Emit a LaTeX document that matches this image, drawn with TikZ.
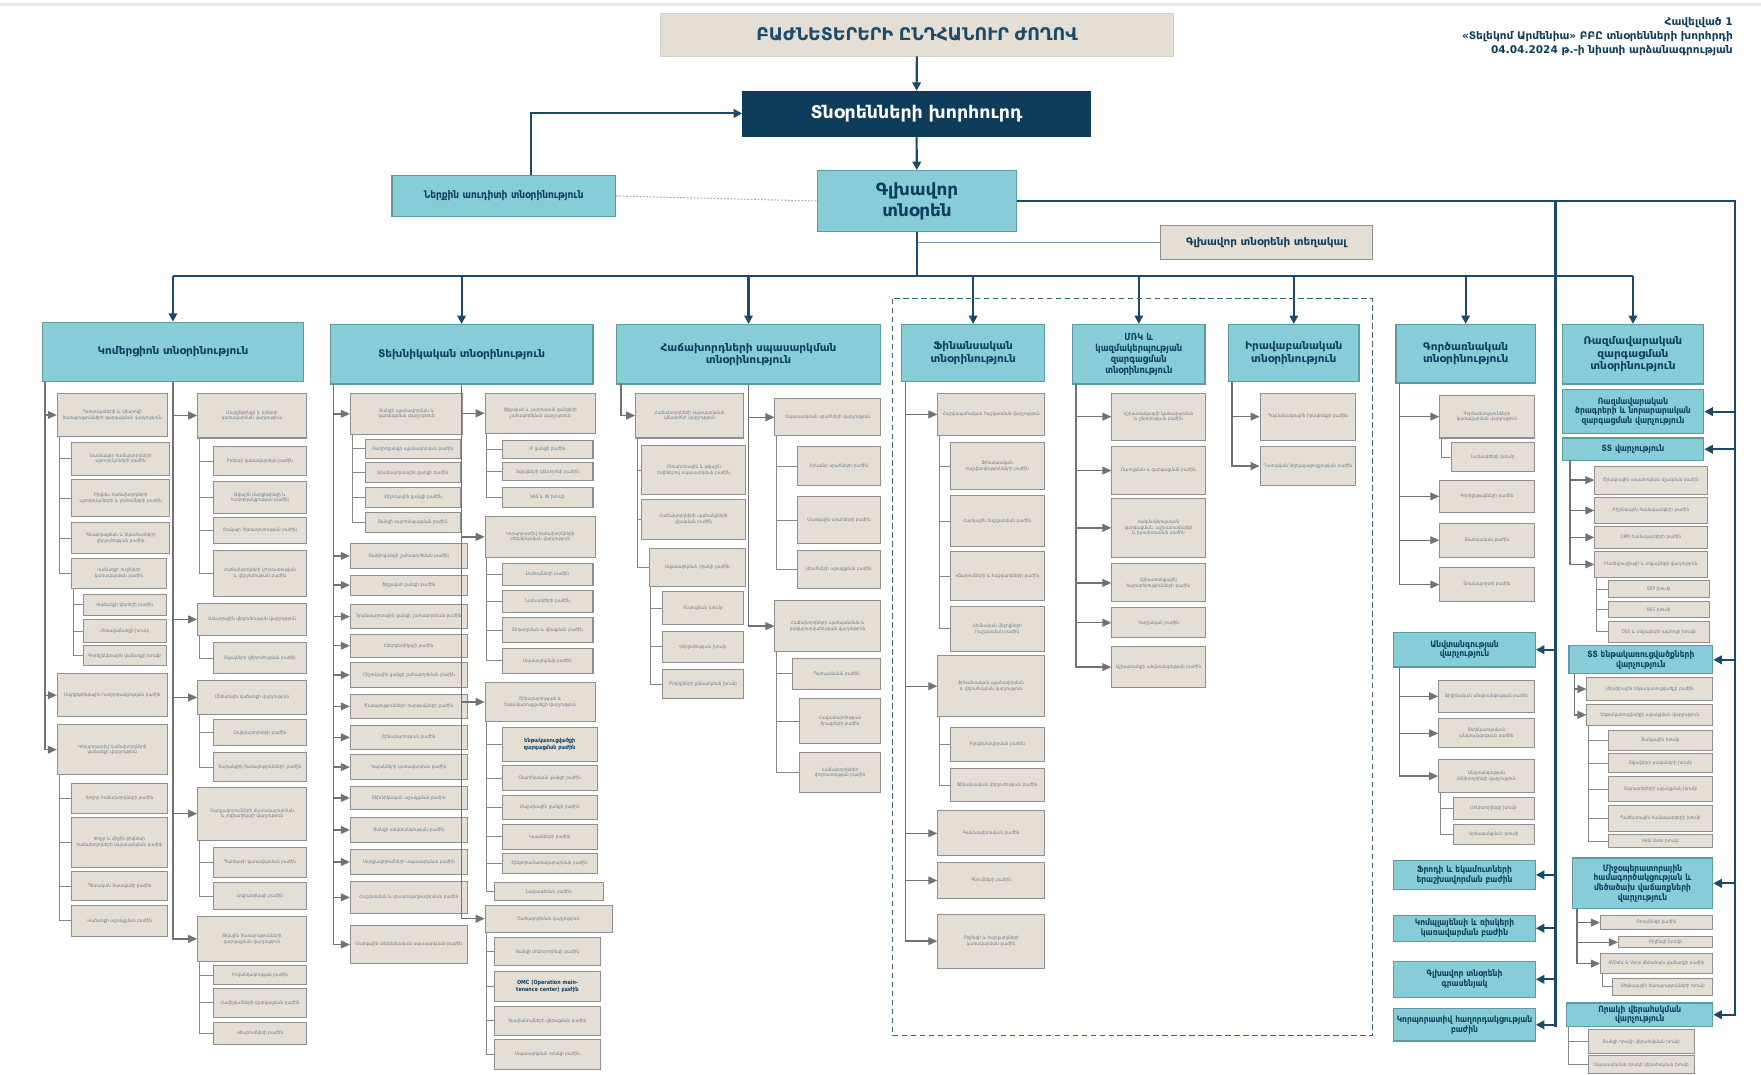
\documentclass[tikz,border=0pt]{standalone}
\usepackage{fontspec}
\setmainfont{DejaVu Sans}
\newfontfamily\condfont[FakeStretch=0.86]{DejaVu Sans}
\usetikzlibrary{arrows.meta,calc}

\definecolor{navy}{HTML}{0E3D5B}
\definecolor{linenavy}{HTML}{1B4966}
\definecolor{tealfill}{HTML}{86CDD8}
\definecolor{tealedge}{HTML}{5C9AA6}
\definecolor{beigefill}{HTML}{E4DED4}
\definecolor{beigeedge}{HTML}{8F8F8F}
\definecolor{minitext}{HTML}{6F7E8B}
\definecolor{titletext}{HTML}{1D4A66}
\definecolor{subgray}{HTML}{727272}

\tikzset{
  titlebox/.style={fill=beigefill, draw=beigefill!85!gray, line width=0.6pt, text=titletext,
    font=\bfseries\fontsize{15.5}{18}\selectfont, align=center, inner sep=1pt},
  boardbox/.style={fill=navy, draw=navy, text=white, font=\bfseries\fontsize{15.5}{18}\selectfont,
    align=center, inner sep=1pt},
  chiefbox/.style={fill=tealfill, draw=tealedge, line width=1.1pt, text=navy,
    font=\bfseries\fontsize{15}{18.5}\selectfont, align=center, inner sep=1pt},
  headbox/.style={draw=tealedge, fill=tealfill, line width=1.1pt, text=navy,
    font=\bfseries\fontsize{9.4}{11}\selectfont, align=center, inner sep=1pt},
  tallhead/.style={headbox, font=\condfont\bfseries\fontsize{8.6}{10}\selectfont},
  unitbox/.style={draw=tealedge, fill=tealfill, line width=1.1pt, text=navy,
    font=\condfont\bfseries\fontsize{7.8}{8.6}\selectfont, align=center, inner sep=1pt},
  auditbox/.style={unitbox, font=\condfont\bfseries\fontsize{9.3}{11}\selectfont},
  deputybox/.style={draw=beigeedge, fill=beigefill, line width=1pt, text=navy,
    font=\bfseries\fontsize{9.3}{11}\selectfont, align=center, inner sep=1pt},
  minibox/.style={draw=beigeedge, fill=beigefill, line width=0.9pt, text=minitext,
    font=\condfont\fontsize{4.3}{5}\selectfont, align=center, inner sep=1pt},
  boldmini/.style={minibox, text=navy, font=\condfont\bfseries\fontsize{5}{5.8}\selectfont},
  mainarrow/.style={draw=linenavy, line width=1.9pt, -{Triangle[length=7.5pt,width=7.5pt]}},
  mainline/.style={draw=linenavy, line width=1.9pt},
  subarrow/.style={draw=subgray, line width=1.2pt, -{Triangle[length=8pt,width=7pt]}},
  kidline/.style={draw=subgray!85, line width=0.8pt},
  dotlink/.style={draw=gray!70, line width=0.9pt, dash pattern=on 1.5pt off 1.5pt},
  thinlink/.style={draw=linenavy!60, line width=0.8pt},
  groupframe/.style={draw=linenavy!85, line width=1pt, dash pattern=on 5pt off 3pt},
}

% box by its corners (left, top, right, bottom), y measured downwards
\newcommand\bx[7]{%
  \pgfmathsetmacro\bxw{#5-#3}%
  \pgfmathsetmacro\bxh{#6-#4}%
  \pgfmathsetmacro\bxt{#5-#3-4}%
  \node[#2, minimum width=\bxw pt, minimum height=\bxh pt, text width=\bxt pt]
    (#1) at ({(#3+#5)/2},{(#4+#6)/2}) {#7};}
% arrow from a spine point down and across to a box
\newcommand\arr[2]{\draw[subarrow] (#1) |- (#2.west);}
% thin line from the parent's lower left corner to a child box
\newcommand\kid[2]{\draw[kidline] ($(#1.south west)+(2,0)$) |- (#2.west);}

\begin{document}
\begin{tikzpicture}[x=1pt,y=-1pt]
\useasboundingbox (0,0) rectangle (1568,957);
\fill[white] (0,0) rectangle (1568,957);
\draw[gray!18, line width=3pt] (0,4) -- (1568,4);

% ---------- governance ----------
\bx{gm}{titlebox}{588}{12}{1045}{50}{ԲԱԺՆԵՏԵՐԵՐԻ ԸՆԴՀԱՆՈՒՐ ԺՈՂՈՎ}
\bx{board}{boardbox}{661}{81}{971}{121}{Տնօրենների խորհուրդ}
\bx{chief}{chiefbox}{728}{152}{905}{206}{Գլխավոր\\տնօրեն}
\bx{audit}{auditbox}{349}{156}{548}{193}{Ներքին աուդիտի տնօրինություն}
\bx{deputy}{deputybox}{1033}{201}{1222}{231}{Գլխավոր տնօրենի տեղակալ}

\node[anchor=north east, align=right, text=navy, inner sep=0pt,
  font=\bfseries\fontsize{9.4}{12.6}\selectfont] (note) at (1543,15)
  {Հավելված 1\\«Տելեկոմ Արմենիա» ԲԲԸ տնօրենների խորհրդի\\04.04.2024 թ.-ի նիստի արձանագրության};

\draw[mainarrow] (gm) -- (board);
\draw[mainarrow] (board) -- (chief);
\draw[mainarrow] ($(audit.north)+(24,0)$) |- (board.west);
\draw[dotlink] (audit.east) -- (chief.west);
\draw[thinlink] (chief.south |- deputy.west) -- (deputy.west);

% ---------- directorates ----------
\bx{h1}{headbox}{38}{287}{270}{340}{Կոմերցիոն տնօրինություն}
\bx{h2}{headbox}{294}{289}{528}{342}{Տեխնիկական տնօրինություն}
\bx{h3}{headbox}{549}{289}{784}{342}{Հաճախորդների սպասարկման\\տնօրինություն}
\bx{h4}{headbox}{803}{289}{930}{340}{Ֆինանսական\\տնօրինություն}
\bx{h5}{tallhead}{955}{289}{1073}{342}{ՄՌԿ և\\կազմակերպության\\զարգացման\\տնօրինություն}
\bx{h6}{headbox}{1094}{289}{1210}{340}{Իրավաբանական\\տնօրինություն}
\bx{h7}{headbox}{1243}{289}{1367}{341}{Գործառնական\\տնօրինություն}
\bx{h8}{headbox}{1391}{289}{1517}{342}{Ռազմավարական\\զարգացման\\տնօրինություն}

\coordinate (bus) at (816,246);
\draw[mainline] (chief.south) -- (chief.south |- bus);
\draw[mainline] (h1.north |- bus) -- (h8.north |- bus);
\foreach \hh in {h1,h2,h3,h4,h5,h6,h7,h8}
  {\draw[mainarrow] (\hh.north |- bus) -- (\hh.north);}

\draw[groupframe] (795,266) rectangle (1222,922);

% ---------- side branches of the general director ----------
\coordinate (lEnd) at (1385,914);
\coordinate (rEnd) at (1545,905);
\draw[mainline] (chief.east) -| (rEnd);
\draw[mainline] (chief.east -| lEnd) -- (lEnd);

% ---------- commercial ----------
\coordinate (k1) at (40,340);
\bx{a1}{minibox}{51}{350}{149}{389}{Պրոդուկտների և վճարովի ծառայությունների զարգացման վարչություն}
\bx{a11}{minibox}{64}{394}{151}{423}{Մասնավոր հաճախորդների պրոդուկտների բաժին}
\bx{a12}{minibox}{64}{427}{151}{460}{Բիզնես հաճախորդների պրոդուկտների և լուծումների բաժին}
\bx{a13}{minibox}{64}{465}{151}{493}{Գնագոյացման և եկամուտների վերլուծության բաժին}
\bx{a14}{minibox}{64}{497}{148}{524}{Վաճառքի ուղիների կառավարման բաժին}
\bx{a141}{minibox}{74}{529}{148}{548}{Վաճառքի կետերի բաժին}
\bx{a142}{minibox}{74}{552}{148}{572}{Հեռավաճառքի խումբ}
\bx{a143}{minibox}{74}{575}{148}{593}{Գործընկերային վաճառքի խումբ}
\bx{a2}{minibox}{51}{600}{149}{638}{Մարքեթինգային հաղորդակցության բաժին}
\bx{a3}{minibox}{51}{645}{149}{690}{Կորպորատիվ հաճախորդների վաճառքի վարչություն}
\bx{a31}{minibox}{64}{698}{149}{724}{Խոշոր հաճախորդների բաժին}
\bx{a32}{minibox}{64}{728}{149}{772}{Փոքր և միջին բիզնեսի հաճախորդների սպասարկման բաժին}
\bx{a33}{minibox}{64}{776}{149}{802}{Պետական հատվածի բաժին}
\bx{a34}{minibox}{64}{806}{149}{834}{Վաճառքի աջակցման բաժին}
\foreach \nm in {a1,a2,a3} {\arr{k1}{\nm}}
\foreach \nm in {a11,a12,a13,a14} {\kid{a1}{\nm}}
\foreach \nm in {a141,a142,a143} {\kid{a14}{\nm}}
\foreach \nm in {a31,a32,a33,a34} {\kid{a3}{\nm}}

\bx{b1}{minibox}{176}{350}{273}{390}{Մարքեթինգի և բրենդի կառավարման վարչություն}
\bx{b11}{minibox}{190}{398}{273}{423}{Բրենդի կառավարման բաժին}
\bx{b12}{minibox}{190}{429}{273}{457}{Թվային մարքեթինգի և հաղորդակցության բաժին}
\bx{b13}{minibox}{190}{461}{273}{484}{Շուկայի հետազոտության բաժին}
\bx{b14}{minibox}{190}{490}{273}{531}{Հաճախորդների փորձառության և վերլուծության բաժին}
\bx{b2}{minibox}{176}{537}{273}{566}{Առևտրային վերլուծության վարչություն}
\bx{b21}{minibox}{190}{572}{273}{600}{Տվյալների վերլուծության բաժին}
\bx{b3}{minibox}{176}{606}{273}{636}{Մեծածախ վաճառքի վարչություն}
\bx{b31}{minibox}{190}{641}{273}{664}{Օպերատորների բաժին}
\bx{b32}{minibox}{190}{670}{273}{696}{Տարանցիկ ծառայությունների բաժին}
\bx{b4}{minibox}{176}{701}{273}{748}{Սարքավորումների մատակարարման և լոգիստիկայի վարչություն}
\bx{b41}{minibox}{190}{755}{273}{781}{Պահեստի կառավարման բաժին}
\bx{b42}{minibox}{190}{786}{273}{810}{Լոգիստիկայի բաժին}
\bx{b5}{minibox}{176}{816}{273}{856}{Թվային ծառայությունների զարգացման վարչություն}
\bx{b51}{minibox}{190}{860}{273}{877}{Բովանդակության բաժին}
\bx{b52}{minibox}{190}{880}{273}{906}{Հավելվածների զարգացման բաժին}
\bx{b53}{minibox}{190}{910}{273}{930}{Վճարումների բաժին}
\foreach \nm in {b1,b2,b3,b4,b5} {\arr{h1.south}{\nm}}
\foreach \nm in {b11,b12,b13,b14} {\kid{b1}{\nm}}
\kid{b2}{b21}
\foreach \nm in {b31,b32} {\kid{b3}{\nm}}
\foreach \nm in {b41,b42} {\kid{b4}{\nm}}
\foreach \nm in {b51,b52,b53} {\kid{b5}{\nm}}

% ---------- technical ----------
\coordinate (k2) at (297,342);
\bx{c1}{minibox}{312}{350}{412}{387}{Ցանցի պլանավորման և զարգացման վարչություն}
\bx{c11}{minibox}{325}{391}{410}{408}{Ռադիոցանցի պլանավորման բաժին}
\bx{c12}{minibox}{325}{412}{410}{430}{Տրանսպորտային ցանցի բաժին}
\bx{c13}{minibox}{325}{434}{410}{452}{Միջուկային ցանցի բաժին}
\bx{c14}{minibox}{325}{456}{410}{474}{Ցանցի օպտիմալացման բաժին}
\bx{c2}{minibox}{312}{484}{416}{506}{Ռադիոցանցի շահագործման բաժին}
\bx{c3}{minibox}{312}{512}{416}{530}{Ֆիքսված ցանցի բաժին}
\bx{c4}{minibox}{312}{538}{416}{560}{Տրանսպորտային ցանցի շահագործման բաժին}
\bx{c5}{minibox}{312}{565}{416}{585}{Էներգետիկայի բաժին}
\bx{c6}{minibox}{312}{590}{416}{612}{Միջուկային ցանցի շահագործման բաժին}
\bx{c7}{minibox}{312}{618}{416}{640}{Ծառայությունների հարթակների բաժին}
\bx{c8}{minibox}{312}{646}{416}{667}{Շինարարության բաժին}
\bx{c9}{minibox}{312}{672}{416}{694}{Կայանների կառավարման բաժին}
\bx{c10}{minibox}{312}{700}{416}{721}{Տեխնիկական աջակցման բաժին}
\bx{c15}{minibox}{312}{728}{416}{750}{Ցանցի անվտանգության բաժին}
\bx{c16}{minibox}{312}{756}{416}{779}{Սարքավորումների սպասարկման բաժին}
\bx{c17}{minibox}{312}{785}{416}{813}{Հաշվառման և փաստաթղթավորման բաժին}
\bx{c18}{minibox}{312}{824}{416}{858}{Մարզային տեխնիկական սպասարկման բաժին}
\foreach \nm in {c1,c2,c3,c4,c5,c6,c7,c8,c9,c10,c15,c16,c17,c18} {\arr{k2}{\nm}}
\foreach \nm in {c11,c12,c13,c14} {\kid{c1}{\nm}}

\bx{d1}{minibox}{432}{350}{530}{386}{Ֆիքսված և շարժական ցանցերի շահագործման վարչություն}
\bx{d11}{minibox}{447}{392}{528}{408}{IP ցանցի բաժին}
\bx{d12}{minibox}{447}{412}{528}{428}{Տվյալների կենտրոնի բաժին}
\bx{d13}{minibox}{447}{434}{528}{452}{VAS և IN խումբ}
\bx{d2}{minibox}{432}{460}{530}{496}{Կորպորատիվ հաճախորդների տեխնիկական վարչություն}
\bx{d21}{minibox}{447}{502}{528}{521}{Լուծումների բաժին}
\bx{d22}{minibox}{447}{526}{528}{545}{Նախագծերի բաժին}
\bx{d23}{minibox}{447}{550}{528}{572}{Տեղադրման և միացման բաժին}
\bx{d24}{minibox}{447}{577}{528}{600}{Սպասարկման բաժին}
\bx{d3}{minibox}{432}{608}{530}{642}{Շինարարության և ենթակառուցվածքի վարչություն}
\bx{d31}{boldmini}{447}{648}{532}{678}{Ենթակառուցվածքի զարգացման բաժին}
\bx{d32}{minibox}{447}{682}{532}{704}{Օպտիկական ցանցի բաժին}
\bx{d33}{minibox}{447}{708}{532}{730}{Մալուխային ցանցի բաժին}
\bx{d34}{minibox}{447}{734}{532}{756}{Կայանների բաժին}
\bx{d35}{minibox}{447}{760}{532}{778}{Էլեկտրամատակարարման բաժին}
\bx{d36}{minibox}{440}{786}{537}{802}{Նախագծման բաժին}
\bx{d4}{minibox}{432}{806}{545}{830}{Շահագործման վարչություն}
\bx{d41}{minibox}{440}{835}{535}{860}{Ցանցի մոնիտորինգի բաժին}
\bx{d42}{boldmini}{440}{865}{535}{892}{OMC (Operation maintenance center) բաժին}
\bx{d43}{minibox}{440}{896}{535}{922}{Խափանումների վերացման բաժին}
\bx{d44}{minibox}{440}{926}{535}{952}{Սպասարկման որակի բաժին}
\foreach \nm in {d1,d2,d3,d4} {\arr{h2.south}{\nm}}
\foreach \nm in {d11,d12,d13} {\kid{d1}{\nm}}
\foreach \nm in {d21,d22,d23,d24} {\kid{d2}{\nm}}
\foreach \nm in {d31,d32,d33,d34,d35,d36} {\kid{d3}{\nm}}
\foreach \nm in {d41,d42,d43,d44} {\kid{d4}{\nm}}

% ---------- customer service ----------
\coordinate (k3) at (553,342);
\bx{e1}{minibox}{566}{350}{662}{390}{Հաճախորդների սպասարկման կենտրոնի վարչություն}
\bx{e2}{minibox}{571}{397}{664}{440}{Հեռախոսային և թվային ուղիներով սպասարկման բաժին}
\bx{e3}{minibox}{571}{445}{664}{480}{Հաճախորդների պահանջների մշակման բաժին}
\bx{e4}{minibox}{578}{488}{664}{522}{Սպասարկման որակի բաժին}
\bx{e41}{minibox}{590}{527}{662}{556}{Ուսուցման խումբ}
\bx{e42}{minibox}{590}{562}{662}{590}{Վերլուծության խումբ}
\bx{e43}{minibox}{590}{596}{662}{622}{Բողոքների քննարկման խումբ}
\arr{k3}{e1}
\foreach \nm in {e2,e3,e4} {\kid{e1}{\nm}}
\foreach \nm in {e41,e42,e43} {\kid{e4}{\nm}}

\bx{f1}{minibox}{690}{355}{784}{388}{Սպասարկման սրահների վարչություն}
\bx{f11}{minibox}{710}{398}{784}{432}{Երևանի սրահների բաժին}
\bx{f12}{minibox}{710}{442}{784}{484}{Մարզային սրահների բաժին}
\bx{f13}{minibox}{710}{490}{784}{524}{Սրահների աջակցման բաժին}
\bx{f2}{minibox}{690}{535}{784}{580}{Հաճախորդների պահպանման և բավարարվածության վարչություն}
\bx{f21}{minibox}{706}{586}{784}{614}{Պահպանման բաժին}
\bx{f22}{minibox}{712}{622}{784}{662}{Հավատարմության ծրագրերի բաժին}
\bx{f23}{minibox}{712}{670}{784}{706}{Հաճախորդների փորձառության բաժին}
\foreach \nm in {f1,f2} {\arr{h3.south}{\nm}}
\foreach \nm in {f11,f12,f13} {\kid{f1}{\nm}}
\foreach \nm in {f21,f22,f23} {\kid{f2}{\nm}}

% ---------- finance ----------
\coordinate (k4) at (806,340);
\bx{g1}{minibox}{835}{350}{930}{388}{Հաշվապահական հաշվառման վարչություն}
\bx{g11}{minibox}{846}{394}{930}{436}{Ֆինանսական հաշվետվությունների բաժին}
\bx{g12}{minibox}{846}{441}{930}{487}{Հարկային հաշվառման բաժին}
\bx{g13}{minibox}{846}{491}{930}{535}{Վճարումների և հաշվարկների բաժին}
\bx{g14}{minibox}{846}{540}{930}{580}{Հիմնական միջոցների հաշվառման բաժին}
\bx{g2}{minibox}{835}{584}{930}{638}{Ֆինանսական պլանավորման և վերահսկման վարչություն}
\bx{g21}{minibox}{846}{648}{930}{678}{Բյուջետավորման բաժին}
\bx{g22}{minibox}{846}{684}{930}{714}{Ֆինանսական վերլուծության բաժին}
\bx{g3}{minibox}{835}{722}{930}{762}{Գանձապետական բաժին}
\bx{g4}{minibox}{835}{768}{930}{800}{Գնումների բաժին}
\bx{g5}{minibox}{835}{814}{930}{862}{Բիլինգի և հաշվարկների կառավարման բաժին}
\foreach \nm in {g1,g2,g3,g4,g5} {\arr{k4}{\nm}}
\foreach \nm in {g11,g12,g13,g14} {\kid{g1}{\nm}}
\foreach \nm in {g21,g22} {\kid{g2}{\nm}}

% ---------- HR and organisation ----------
\coordinate (k5) at (958,342);
\bx{m1}{minibox}{990}{350}{1073}{392}{Աշխատակազմի կառավարման և ընտրության բաժին}
\bx{m2}{minibox}{990}{398}{1073}{440}{Ուսուցման և զարգացման բաժին}
\bx{m3}{minibox}{990}{444}{1073}{496}{Կազմակերպական զարգացման, աշխատավարձի և խրախուսման բաժին}
\bx{m4}{minibox}{990}{502}{1073}{536}{Աշխատանքային հարաբերությունների բաժին}
\bx{m5}{minibox}{990}{541}{1073}{568}{Վարչական բաժին}
\bx{m6}{minibox}{990}{576}{1073}{612}{Աշխատանքի անվտանգության բաժին}
\foreach \nm in {m1,m2,m3,m4,m5,m6} {\arr{k5}{\nm}}

% ---------- legal ----------
\coordinate (k6) at (1097,340);
\bx{l1}{minibox}{1122}{350}{1207}{392}{Պայմանագրային իրավունքի բաժին}
\bx{l2}{minibox}{1122}{398}{1207}{432}{Դատական ներկայացուցչության բաժին}
\foreach \nm in {l1,l2} {\arr{k6}{\nm}}

% ---------- operations ----------
\coordinate (k7) at (1246,341);
\bx{o1}{minibox}{1282}{352}{1366}{390}{Գործառնությունների կառավարման վարչություն}
\bx{o11}{minibox}{1292}{394}{1366}{420}{Նախագծերի խումբ}
\bx{o2}{minibox}{1282}{428}{1366}{456}{Գործընթացների բաժին}
\bx{o3}{minibox}{1282}{466}{1366}{496}{Տնտեսական բաժին}
\bx{o4}{minibox}{1282}{505}{1366}{536}{Տրանսպորտի բաժին}
\foreach \nm in {o1,o2,o3,o4} {\arr{k7}{\nm}}
\kid{o1}{o11}

\bx{sec}{unitbox}{1241}{563}{1367}{594}{Անվտանգության\\վարչություն}
\bx{s1}{minibox}{1281}{606}{1366}{634}{Ֆիզիկական անվտանգության բաժին}
\bx{s2}{minibox}{1281}{640}{1366}{666}{Տեղեկատվական անվտանգության բաժին}
\bx{s3}{minibox}{1281}{676}{1366}{706}{Անվտանգության մոնիտորինգի վարչություն}
\bx{s31}{minibox}{1294}{710}{1366}{730}{Մոնիտորինգի խումբ}
\bx{s32}{minibox}{1294}{734}{1366}{752}{Արձագանքման խումբ}
\coordinate (k7s) at (1246,594);
\foreach \nm in {s1,s2,s3} {\arr{k7s}{\nm}}
\foreach \nm in {s31,s32} {\kid{s3}{\nm}}

\bx{fraud}{unitbox}{1241}{766}{1367}{792}{Ֆրոդի և եկամուտների\\երաշխավորման բաժին}
\bx{comp}{unitbox}{1241}{815}{1367}{838}{Կոմպլայենսի և ռիսկերի\\կառավարման բաժին}
\bx{office}{unitbox}{1241}{856}{1367}{888}{Գլխավոր տնօրենի\\գրասենյակ}
\bx{corp}{unitbox}{1241}{898}{1367}{927}{Կորպորատիվ հաղորդակցության\\բաժին}
\foreach \nm in {sec,fraud,comp,office,corp}
  {\draw[mainarrow] (lEnd |- \nm.east) -- (\nm.east);}

% ---------- strategic development ----------
\bx{r1}{unitbox}{1391}{347}{1517}{386}{Ռազմավարական\\ծրագրերի և նորարարական\\զարգացման վարչություն}
\bx{r2}{unitbox}{1391}{390}{1517}{410}{ՏՏ վարչություն}
\bx{r21}{minibox}{1420}{415}{1520}{440}{Ծրագրային ապահովման մշակման բաժին}
\bx{r22}{minibox}{1420}{443}{1520}{466}{Բիլինգային համակարգերի բաժին}
\bx{r23}{minibox}{1420}{469}{1520}{488}{CRM համակարգերի բաժին}
\bx{r24}{minibox}{1420}{491}{1520}{514}{Ինտեգրացիայի և տվյալների վարչություն}
\bx{r241}{minibox}{1432}{517}{1522}{532}{ERP խումբ}
\bx{r242}{minibox}{1432}{536}{1522}{550}{BSS խումբ}
\bx{r243}{minibox}{1432}{553}{1522}{572}{OSS և տվյալների պահոցի խումբ}
\coordinate (k8a) at (1398,410);
\foreach \nm in {r21,r22,r23,r24} {\arr{k8a}{\nm}}
\foreach \nm in {r241,r242,r243} {\kid{r24}{\nm}}

\bx{r3}{unitbox}{1397}{575}{1525}{600}{ՏՏ ենթակառուցվածքների\\վարչություն}
\bx{r31}{minibox}{1413}{603}{1525}{624}{Սերվերային ենթակառուցվածքի բաժին}
\bx{r32}{minibox}{1413}{627}{1525}{646}{Ենթակառուցվածքի աջակցման վարչություն}
\bx{r321}{minibox}{1432}{650}{1525}{668}{Ցանցային խումբ}
\bx{r322}{minibox}{1432}{671}{1525}{688}{Տվյալների բազաների խումբ}
\bx{r323}{minibox}{1432}{691}{1525}{714}{Օգտատերերի աջակցման խումբ}
\bx{r324}{minibox}{1432}{717}{1525}{740}{Պահեստային համակարգերի խումբ}
\bx{r325}{minibox}{1432}{743}{1525}{755}{Help Desk խումբ}
\coordinate (k8b) at (1402,600);
\foreach \nm in {r31,r32} {\arr{k8b}{\nm}}
\foreach \nm in {r321,r322,r323,r324,r325} {\kid{r32}{\nm}}

\bx{r4}{unitbox}{1400}{764}{1525}{809}{Միջօպերատորային\\համագործակցության և\\մեծածախ վաճառքների\\վարչություն}
\bx{r41}{minibox}{1425}{815}{1525}{828}{Ռոումինգի բաժին}
\bx{r42}{minibox}{1441}{834}{1525}{844}{Բիլինգի խումբ}
\bx{r43}{minibox}{1425}{849}{1525}{867}{IP/Data \& Voice մեծածախ վաճառքի բաժին}
\bx{r431}{minibox}{1436}{871}{1525}{886}{Սիգնալային ծառայությունների խումբ}
\coordinate (k8c) at (1404,809);
\foreach \nm in {r41,r42,r43} {\arr{k8c}{\nm}}
\kid{r43}{r431}

\bx{r5}{unitbox}{1395}{893}{1525}{914}{Որակի վերահսկման\\վարչություն}
\bx{r51}{minibox}{1414}{917}{1509}{938}{Ցանցի որակի վերահսկման խումբ}
\bx{r52}{minibox}{1414}{940}{1509}{956}{Սպասարկման որակի վերահսկման խումբ}
\foreach \nm in {r51,r52} {\kid{r5}{\nm}}

\foreach \nm in {r1,r2,r3,r4,r5}
  {\draw[mainarrow] (rEnd |- \nm.east) -- (\nm.east);}

\end{tikzpicture}
\end{document}
